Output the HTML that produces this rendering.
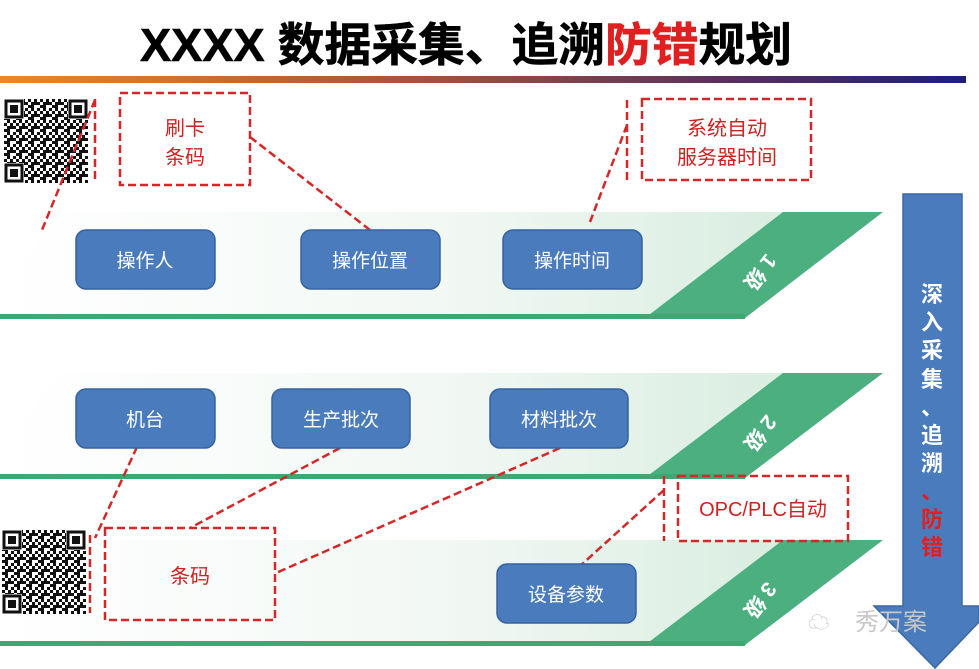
<!DOCTYPE html>
<html><head><meta charset="utf-8"><style>
html,body{margin:0;padding:0;background:#fff;}
svg{display:block;font-family:"Liberation Sans","Noto Sans CJK SC",sans-serif;}
</style></head><body>
<svg width="979" height="669" viewBox="0 0 979 669" xmlns="http://www.w3.org/2000/svg">
<defs>
<linearGradient id="bar" x1="0" x2="1" y1="0" y2="0">
<stop offset="0" stop-color="#e8892a"/><stop offset="0.45" stop-color="#a0523a"/><stop offset="0.75" stop-color="#5a2f5e"/><stop offset="1" stop-color="#1c1f7a"/>
</linearGradient>
<linearGradient id="band" x1="0" x2="1" y1="0" y2="0">
<stop offset="0" stop-color="#ffffff"/><stop offset="0.5" stop-color="#f2f8f4"/><stop offset="1" stop-color="#d2eadb"/>
</linearGradient>
<pattern id="qr" width="12" height="12" patternUnits="userSpaceOnUse">
<rect x="0" y="0" width="3" height="3" fill="#111"/><rect x="6" y="0" width="3" height="6" fill="#111"/>
<rect x="3" y="3" width="3" height="3" fill="#111"/><rect x="9" y="3" width="3" height="3" fill="#111"/>
<rect x="0" y="6" width="6" height="3" fill="#111"/><rect x="9" y="9" width="3" height="3" fill="#111"/>
<rect x="3" y="9" width="3" height="3" fill="#111"/>
</pattern>
<g id="qrcode">
<rect x="0" y="0" width="84" height="84" fill="url(#qr)"/>
<rect x="0" y="0" width="20" height="20" fill="#fff"/><rect x="2" y="2" width="16" height="16" fill="none" stroke="#111" stroke-width="3"/><rect x="6" y="6" width="8" height="8" fill="#111"/>
<rect x="64" y="0" width="20" height="20" fill="#fff"/><rect x="66" y="2" width="16" height="16" fill="none" stroke="#111" stroke-width="3"/><rect x="70" y="6" width="8" height="8" fill="#111"/>
<rect x="0" y="64" width="20" height="20" fill="#fff"/><rect x="2" y="66" width="16" height="16" fill="none" stroke="#111" stroke-width="3"/><rect x="6" y="70" width="8" height="8" fill="#111"/>
</g>
</defs>

<!-- Title -->
<text x="140" y="61" font-size="46" font-weight="bold" fill="#000" textLength="652" lengthAdjust="spacingAndGlyphs" stroke="#000" stroke-width="0.6">XXXX 数据采集、追溯<tspan fill="#e02020" stroke="#e02020">防错</tspan>规划</text>
<rect x="0" y="76" width="966" height="7" fill="url(#bar)"/>

<!-- Bands -->
<g>
<polygon points="60,212 883,212 745,318 0,318 0,290" fill="url(#band)"/>
<polygon points="783,212 883,212 745,318 645,318" fill="#4caf7f"/>
<rect x="0" y="314" width="745" height="5" fill="#3fa872"/>
<text transform="translate(760,272) rotate(128)" font-size="21" font-weight="bold" fill="#fff" text-anchor="middle" dy="7">1 级</text>
</g>
<g>
<polygon points="60,373 883,373 745,478 0,478 0,450" fill="url(#band)"/>
<polygon points="783,373 883,373 745,478 645,478" fill="#4caf7f"/>
<rect x="0" y="474" width="745" height="5" fill="#3fa872"/>
<text transform="translate(760,433) rotate(128)" font-size="21" font-weight="bold" fill="#fff" text-anchor="middle" dy="7">2 级</text>
</g>
<g>
<polygon points="60,540 883,540 745,645 0,645 0,617" fill="url(#band)"/>
<polygon points="783,540 883,540 745,645 645,645" fill="#4caf7f"/>
<rect x="0" y="641" width="745" height="5" fill="#3fa872"/>
<text transform="translate(760,600) rotate(128)" font-size="21" font-weight="bold" fill="#fff" text-anchor="middle" dy="7">3 级</text>
</g>

<!-- Arrow -->
<polygon points="903,194 962,194 962,606 979,606 979,622 935,668 874,606 903,606" fill="#4a7bbd" stroke="#3a68a5" stroke-width="1.5"/>
<g font-size="22" font-weight="bold" fill="#fff" text-anchor="middle">
<text x="932" y="302">深</text><text x="932" y="330">入</text><text x="932" y="358">采</text><text x="932" y="387">集</text>
<text x="932" y="415">、</text><text x="932" y="443">追</text><text x="932" y="471">溯</text>
<text x="932" y="499" fill="#e02020">、</text><text x="932" y="527" fill="#e02020">防</text><text x="932" y="555" fill="#e02020">错</text>
</g>
<text x="855" y="630" font-size="24" fill="#c8c8c8">秀万案</text>
<text x="808" y="630" font-size="22" fill="#c8c8c8">☁</text>

<!-- QR codes -->
<use href="#qrcode" x="4" y="99"/>
<use href="#qrcode" x="2" y="530"/>

<!-- Dashed lines -->
<g stroke="#d42828" stroke-width="2.5" stroke-dasharray="8,4" fill="none">
<rect x="120" y="93" width="130" height="92"/>
<rect x="642" y="99" width="169" height="81"/>
<rect x="105" y="528" width="170" height="92"/>
<rect x="678" y="476" width="170" height="65"/>
<line x1="664" y1="476" x2="664" y2="541"/>
<line x1="95" y1="99" x2="95" y2="183"/>
<line x1="627" y1="100" x2="627" y2="180"/>
<line x1="95" y1="100" x2="42" y2="230"/>
<line x1="250" y1="137" x2="370" y2="230"/>
<line x1="627" y1="125" x2="590" y2="222"/>
<line x1="137" y1="447" x2="95" y2="538"/>
<line x1="340" y1="448" x2="190" y2="528"/>
<line x1="560" y1="448" x2="276" y2="573"/>
<line x1="664" y1="490" x2="580" y2="566"/>
<line x1="90" y1="535" x2="90" y2="613"/>
</g>
<g fill="#d02020" font-size="20" text-anchor="middle">
<text x="185" y="135">刷卡</text><text x="185" y="164">条码</text>
<text x="727" y="135">系统自动</text><text x="727" y="164">服务器时间</text>
<text x="190" y="583">条码</text>
<text x="763" y="516">OPC/PLC自动</text>
</g>

<!-- Blue boxes -->
<g fill="#4a7bbd" stroke="#3563a0" stroke-width="1.5">
<rect x="76" y="230" width="139" height="59" rx="10"/>
<rect x="301" y="230" width="139" height="59" rx="10"/>
<rect x="503" y="230" width="139" height="59" rx="10"/>
<rect x="76" y="389" width="139" height="59" rx="10"/>
<rect x="272" y="389" width="138" height="59" rx="10"/>
<rect x="490" y="389" width="138" height="59" rx="10"/>
<rect x="497" y="564" width="139" height="59" rx="10"/>
</g>
<g fill="#fff" font-size="19" text-anchor="middle">
<text x="145" y="267">操作人</text>
<text x="370" y="267">操作位置</text>
<text x="572" y="267">操作时间</text>
<text x="145" y="426">机台</text>
<text x="341" y="426">生产批次</text>
<text x="559" y="426">材料批次</text>
<text x="566" y="601">设备参数</text>
</g>
</svg>
</body></html>
